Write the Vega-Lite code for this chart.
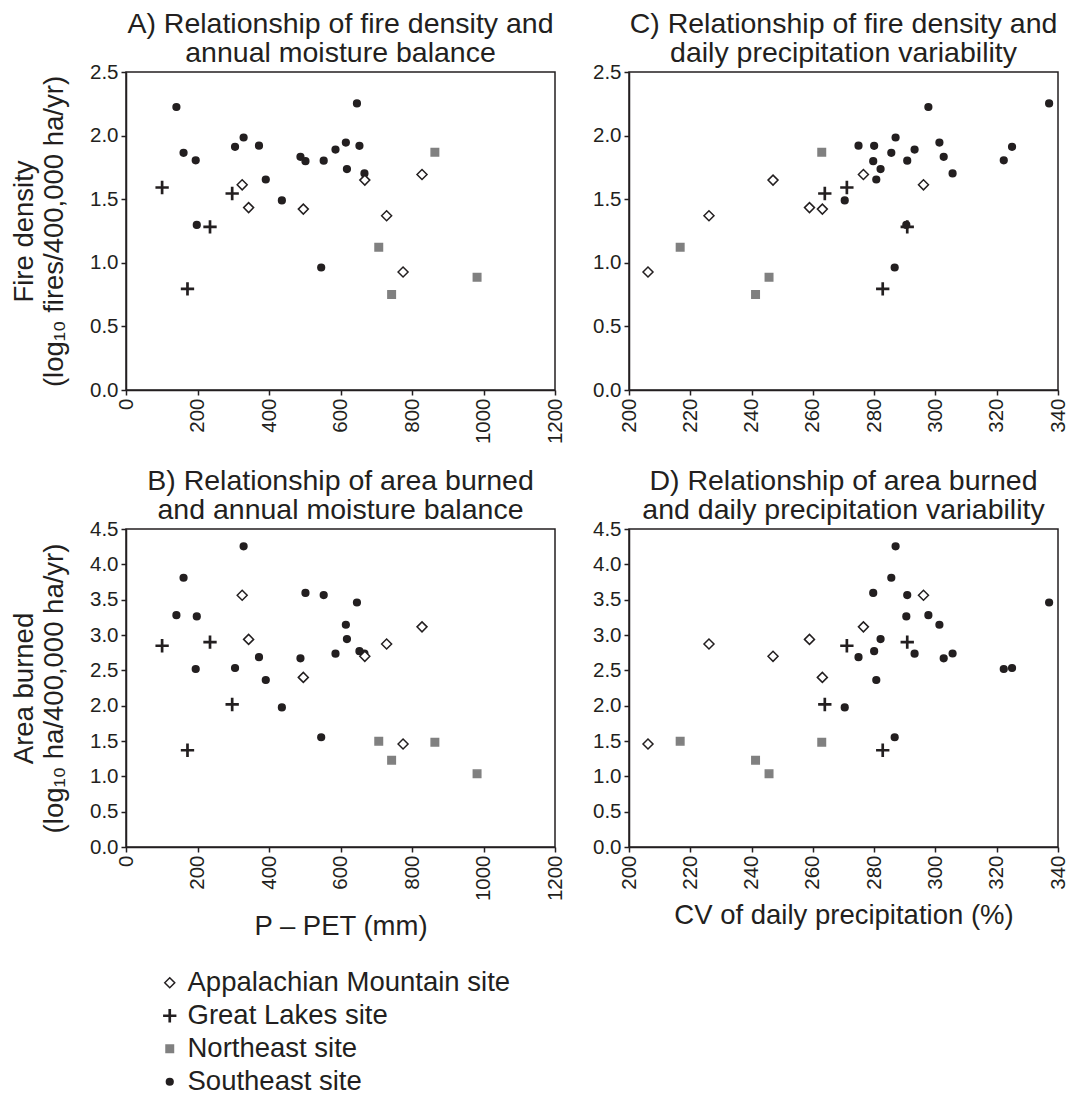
{
  "$schema": "https://vega.github.io/schema/vega-lite/v6.json",
  "padding": {"left": 9, "top": 8, "right": 5, "bottom": 5},
  "background": "white",
  "datasets": {
    "sites": [
      {"site": "Southeast site", "ppet": 141, "cv": 297.7, "fire": 2.225, "area": 3.28},
      {"site": "Southeast site", "ppet": 646, "cv": 337.1, "fire": 2.253, "area": 3.46},
      {"site": "Southeast site", "ppet": 329, "cv": 287.0, "fire": 1.985, "area": 4.255},
      {"site": "Southeast site", "ppet": 615, "cv": 301.3, "fire": 1.945, "area": 3.145},
      {"site": "Southeast site", "ppet": 305, "cv": 325.0, "fire": 1.912, "area": 2.533},
      {"site": "Southeast site", "ppet": 586, "cv": 293.2, "fire": 1.890, "area": 2.735},
      {"site": "Southeast site", "ppet": 161, "cv": 285.6, "fire": 1.865, "area": 3.81},
      {"site": "Southeast site", "ppet": 488, "cv": 302.7, "fire": 1.833, "area": 2.67},
      {"site": "Southeast site", "ppet": 618, "cv": 282.1, "fire": 1.737, "area": 2.943},
      {"site": "Southeast site", "ppet": 667, "cv": 305.6, "fire": 1.703, "area": 2.738},
      {"site": "Southeast site", "ppet": 391, "cv": 280.7, "fire": 1.655, "area": 2.363},
      {"site": "Southeast site", "ppet": 436, "cv": 270.4, "fire": 1.490, "area": 1.975},
      {"site": "Southeast site", "ppet": 198, "cv": 290.5, "fire": 1.298, "area": 3.263},
      {"site": "Southeast site", "ppet": 546, "cv": 286.7, "fire": 0.963, "area": 1.553},
      {"site": "Southeast site", "ppet": 372, "cv": 274.9, "fire": 1.921, "area": 2.686},
      {"site": "Southeast site", "ppet": 653, "cv": 280.0, "fire": 1.920, "area": 2.771},
      {"site": "Southeast site", "ppet": 195, "cv": 322.3, "fire": 1.806, "area": 2.519},
      {"site": "Southeast site", "ppet": 502, "cv": 279.7, "fire": 1.799, "area": 3.596},
      {"site": "Southeast site", "ppet": 553, "cv": 290.8, "fire": 1.803, "area": 3.565},
      {"site": "Great Lakes site", "ppet": 101, "cv": 271.1, "fire": 1.592, "area": 2.848},
      {"site": "Great Lakes site", "ppet": 297, "cv": 263.9, "fire": 1.545, "area": 2.017},
      {"site": "Great Lakes site", "ppet": 235, "cv": 290.8, "fire": 1.283, "area": 2.898},
      {"site": "Great Lakes site", "ppet": 172, "cv": 282.8, "fire": 0.795, "area": 1.369},
      {"site": "Appalachian Mountain site", "ppet": 325, "cv": 296.1, "fire": 1.613, "area": 3.563},
      {"site": "Appalachian Mountain site", "ppet": 343, "cv": 258.9, "fire": 1.434, "area": 2.938},
      {"site": "Appalachian Mountain site", "ppet": 496, "cv": 263.1, "fire": 1.422, "area": 2.40},
      {"site": "Appalachian Mountain site", "ppet": 668, "cv": 247.0, "fire": 1.650, "area": 2.698},
      {"site": "Appalachian Mountain site", "ppet": 729, "cv": 226.1, "fire": 1.370, "area": 2.872},
      {"site": "Appalachian Mountain site", "ppet": 828, "cv": 276.5, "fire": 1.694, "area": 3.115},
      {"site": "Appalachian Mountain site", "ppet": 775, "cv": 206.2, "fire": 0.928, "area": 1.458},
      {"site": "Northeast site", "ppet": 864, "cv": 262.9, "fire": 1.869, "area": 1.483},
      {"site": "Northeast site", "ppet": 707, "cv": 216.7, "fire": 1.122, "area": 1.498},
      {"site": "Northeast site", "ppet": 743, "cv": 241.3, "fire": 0.750, "area": 1.228},
      {"site": "Northeast site", "ppet": 982, "cv": 245.7, "fire": 0.886, "area": 1.035}
    ]
  },
  "config": {
    "font": "Liberation Sans",
    "view": {"stroke": "#231f20", "strokeWidth": 1.5},
    "axis": {
      "grid": false,
      "domainColor": "#231f20", "domainWidth": 1.5,
      "tickColor": "#231f20", "tickWidth": 1.5, "tickSize": 5,
      "labelFont": "Liberation Sans", "labelFontSize": 20.5, "labelColor": "#231f20", "labelPadding": 3,
      "titleFont": "Liberation Sans", "titleFontSize": 27.5, "titleFontWeight": "normal", "titleColor": "#231f20", "titleLineHeight": 30
    },
    "axisX": {"labelAngle": -90, "titlePadding": 12, "format": "d"},
    "axisY": {"titlePadding": 21, "format": ".1f"},
    "title": {"font": "Liberation Sans", "fontSize": 28.5, "fontWeight": "normal", "color": "#231f20", "frame": "group", "anchor": "middle", "lineHeight": 29, "offset": -5},
    "legend": {"labelFont": "Liberation Sans", "labelFontSize": 27.5, "labelColor": "#231f20", "labelLimit": 0, "rowPadding": 4, "labelOffset": 4, "symbolStrokeWidth": 1.5}
  },
  "resolve": {"scale": {"shape": "shared", "fill": "shared", "stroke": "shared", "size": "shared"}},
  "spacing": 20,
  "vconcat": [
    {
      "spacing": 24,
      "resolve": {"scale": {"shape": "shared", "fill": "shared", "stroke": "shared", "size": "shared"}},
      "hconcat": [
        {
          "width": 429, "height": 318,
          "title": {"text": ["A) Relationship of fire density and", "annual moisture balance"]},
          "data": {"name": "sites"},
          "mark": {"type": "point", "strokeWidth": 1.5, "opacity": 1},
          "encoding": {
            "x": {"field": "ppet", "type": "quantitative", "scale": {"domain": [0, 1200], "nice": false}, "axis": {"values": [0, 200, 400, 600, 800, 1000, 1200], "title": null}},
            "y": {"field": "fire", "type": "quantitative", "scale": {"domain": [0, 2.5], "nice": false}, "axis": {"values": [0, 0.5, 1, 1.5, 2, 2.5], "title": ["Fire density", "(log₁₀ fires/400,000 ha/yr)"]}},
            "shape": {"field": "site", "type": "nominal", "scale": {"domain": ["Appalachian Mountain site", "Great Lakes site", "Northeast site", "Southeast site"], "range": ["diamond", "M-1,-0.1H-0.1V-1H0.1V-0.1H1V0.1H0.1V1H-0.1V0.1H-1Z", "square", "circle"]}, "legend": {"orient": "none", "legendX": 30, "legendY": 897, "title": null}},
            "fill": {"field": "site", "type": "nominal", "scale": {"domain": ["Appalachian Mountain site", "Great Lakes site", "Northeast site", "Southeast site"], "range": ["#ffffff", "#231f20", "#808080", "#231f20"]}, "legend": {"orient": "none", "legendX": 30, "legendY": 897, "title": null}},
            "stroke": {"field": "site", "type": "nominal", "scale": {"domain": ["Appalachian Mountain site", "Great Lakes site", "Northeast site", "Southeast site"], "range": ["#231f20", "#231f20", "#808080", "#231f20"]}, "legend": {"orient": "none", "legendX": 30, "legendY": 897, "title": null}},
            "size": {"field": "site", "type": "nominal", "scale": {"type": "ordinal", "domain": ["Appalachian Mountain site", "Great Lakes site", "Northeast site", "Southeast site"], "range": [100, 140, 56, 45]}, "legend": {"orient": "none", "legendX": 30, "legendY": 897, "title": null}}
          }
        },
        {
          "width": 429, "height": 318,
          "title": {"text": ["C) Relationship of fire density and", "daily precipitation variability"]},
          "data": {"name": "sites"},
          "mark": {"type": "point", "strokeWidth": 1.5, "opacity": 1},
          "encoding": {
            "x": {"field": "cv", "type": "quantitative", "scale": {"domain": [200, 340], "nice": false, "zero": false}, "axis": {"values": [200, 220, 240, 260, 280, 300, 320, 340], "title": null}},
            "y": {"field": "fire", "type": "quantitative", "scale": {"domain": [0, 2.5], "nice": false}, "axis": {"values": [0, 0.5, 1, 1.5, 2, 2.5], "title": null}},
            "shape": {"field": "site", "type": "nominal", "scale": {"domain": ["Appalachian Mountain site", "Great Lakes site", "Northeast site", "Southeast site"], "range": ["diamond", "M-1,-0.1H-0.1V-1H0.1V-0.1H1V0.1H0.1V1H-0.1V0.1H-1Z", "square", "circle"]}},
            "fill": {"field": "site", "type": "nominal", "scale": {"domain": ["Appalachian Mountain site", "Great Lakes site", "Northeast site", "Southeast site"], "range": ["#ffffff", "#231f20", "#808080", "#231f20"]}},
            "stroke": {"field": "site", "type": "nominal", "scale": {"domain": ["Appalachian Mountain site", "Great Lakes site", "Northeast site", "Southeast site"], "range": ["#231f20", "#231f20", "#808080", "#231f20"]}},
            "size": {"field": "site", "type": "nominal", "scale": {"type": "ordinal", "domain": ["Appalachian Mountain site", "Great Lakes site", "Northeast site", "Southeast site"], "range": [100, 140, 56, 45]}}
          }
        }
      ]
    },
    {
      "spacing": 24,
      "resolve": {"scale": {"shape": "shared", "fill": "shared", "stroke": "shared", "size": "shared"}},
      "hconcat": [
        {
          "width": 429, "height": 318,
          "title": {"text": ["B) Relationship of area burned", "and annual moisture balance"]},
          "data": {"name": "sites"},
          "mark": {"type": "point", "strokeWidth": 1.5, "opacity": 1},
          "encoding": {
            "x": {"field": "ppet", "type": "quantitative", "scale": {"domain": [0, 1200], "nice": false}, "axis": {"values": [0, 200, 400, 600, 800, 1000, 1200], "title": "P – PET (mm)"}},
            "y": {"field": "area", "type": "quantitative", "scale": {"domain": [0, 4.5], "nice": false}, "axis": {"values": [0, 0.5, 1, 1.5, 2, 2.5, 3, 3.5, 4, 4.5], "title": ["Area burned", "(log₁₀ ha/400,000 ha/yr)"]}},
            "shape": {"field": "site", "type": "nominal", "scale": {"domain": ["Appalachian Mountain site", "Great Lakes site", "Northeast site", "Southeast site"], "range": ["diamond", "M-1,-0.1H-0.1V-1H0.1V-0.1H1V0.1H0.1V1H-0.1V0.1H-1Z", "square", "circle"]}},
            "fill": {"field": "site", "type": "nominal", "scale": {"domain": ["Appalachian Mountain site", "Great Lakes site", "Northeast site", "Southeast site"], "range": ["#ffffff", "#231f20", "#808080", "#231f20"]}},
            "stroke": {"field": "site", "type": "nominal", "scale": {"domain": ["Appalachian Mountain site", "Great Lakes site", "Northeast site", "Southeast site"], "range": ["#231f20", "#231f20", "#808080", "#231f20"]}},
            "size": {"field": "site", "type": "nominal", "scale": {"type": "ordinal", "domain": ["Appalachian Mountain site", "Great Lakes site", "Northeast site", "Southeast site"], "range": [100, 140, 56, 45]}}
          }
        },
        {
          "width": 429, "height": 318,
          "title": {"text": ["D) Relationship of area burned", "and daily precipitation variability"]},
          "data": {"name": "sites"},
          "mark": {"type": "point", "strokeWidth": 1.5, "opacity": 1},
          "encoding": {
            "x": {"field": "cv", "type": "quantitative", "scale": {"domain": [200, 340], "nice": false, "zero": false}, "axis": {"values": [200, 220, 240, 260, 280, 300, 320, 340], "title": "CV of daily precipitation (%)"}},
            "y": {"field": "area", "type": "quantitative", "scale": {"domain": [0, 4.5], "nice": false}, "axis": {"values": [0, 0.5, 1, 1.5, 2, 2.5, 3, 3.5, 4, 4.5], "title": null}},
            "shape": {"field": "site", "type": "nominal", "scale": {"domain": ["Appalachian Mountain site", "Great Lakes site", "Northeast site", "Southeast site"], "range": ["diamond", "M-1,-0.1H-0.1V-1H0.1V-0.1H1V0.1H0.1V1H-0.1V0.1H-1Z", "square", "circle"]}},
            "fill": {"field": "site", "type": "nominal", "scale": {"domain": ["Appalachian Mountain site", "Great Lakes site", "Northeast site", "Southeast site"], "range": ["#ffffff", "#231f20", "#808080", "#231f20"]}},
            "stroke": {"field": "site", "type": "nominal", "scale": {"domain": ["Appalachian Mountain site", "Great Lakes site", "Northeast site", "Southeast site"], "range": ["#231f20", "#231f20", "#808080", "#231f20"]}},
            "size": {"field": "site", "type": "nominal", "scale": {"type": "ordinal", "domain": ["Appalachian Mountain site", "Great Lakes site", "Northeast site", "Southeast site"], "range": [100, 140, 56, 45]}}
          }
        }
      ]
    }
  ]
}
